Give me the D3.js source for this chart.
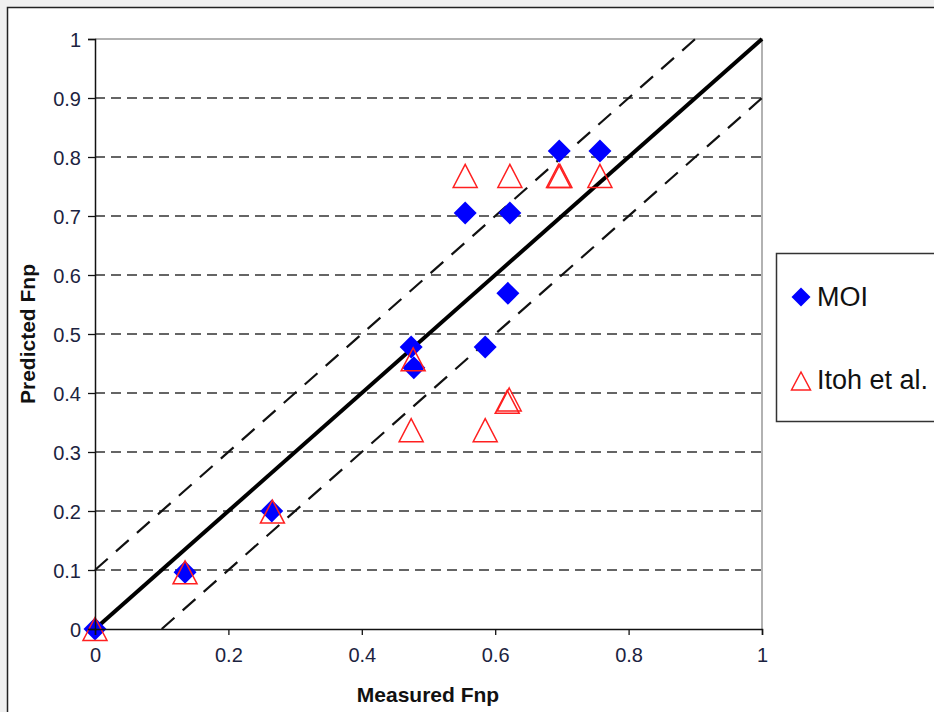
<!DOCTYPE html>
<html>
<head>
<meta charset="utf-8">
<script src="https://cdn.jsdelivr.net/npm/d3@7"></script>
<style>
	html, body { margin: 0; padding: 0; background: #f0f0f0; overflow: hidden; }
	svg { display: block; font-family: "Liberation Sans", Arial, sans-serif; }
</style>
</head>
<body>
<script>
var width = 934, height = 712;

// MOI predictions (blue diamonds)
var moiX = [0, 0.135, 0.265, 0.474, 0.478, 0.555, 0.585, 0.619, 0.622, 0.696, 0.757];
var moiY = [0, 0.096, 0.2, 0.478, 0.443, 0.705, 0.478, 0.569, 0.705, 0.81, 0.81];

// Itoh et al. predictions (red triangles)
var itohX = [0, 0.135, 0.266, 0.477, 0.474, 0.585, 0.618, 0.621, 0.555, 0.622, 0.695, 0.697, 0.757];
var itohY = [0, 0.096, 0.199, 0.457, 0.337, 0.337, 0.385, 0.389, 0.768, 0.768, 0.768, 0.768, 0.768];

var ticks = [0, 0.1, 0.2, 0.3, 0.4, 0.5, 0.6, 0.7, 0.8, 0.9, 1];
var xTicks = [0, 0.2, 0.4, 0.6, 0.8, 1];
var seriesNames = ["MOI", "Itoh et al."];

var svg = d3.select("body").append("svg").attr("width", width).attr("height", height);

// chart frame
svg.append("rect")
	.attr("x", 7.5).attr("y", 7.5)
	.attr("width", width + 20).attr("height", height + 20)
	.attr("fill", "#fff").attr("stroke", "#222").attr("stroke-width", 1.5);

var x = d3.scaleLinear().domain([0, 1]).range([95, 762]);
var y = d3.scaleLinear().domain([0, 1]).range([629, 39]);

var plot = svg.append("g");

// horizontal gridlines
plot.selectAll(".grid")
	.data(ticks.filter(function(d){ return d > 0 && d < 1; }))
	.enter().append("line")
	.attr("class", "grid")
	.attr("x1", x(0)).attr("x2", x(1))
	.attr("y1", function(d){ return y(d); })
	.attr("y2", function(d){ return y(d); })
	.attr("stroke", "#333").attr("stroke-width", 1.4)
	.attr("stroke-dasharray", "10,6");

// top and right border of plot area
plot.append("path")
	.attr("d", "M" + x(0) + "," + y(1) + "H" + x(1) + "V" + y(0))
	.attr("fill", "none").attr("stroke", "#999").attr("stroke-width", 1.5);

// axes
var fmt = function(d){ return d3.format("")(+d.toFixed(1)); };
var yAxis = d3.axisLeft(y).tickValues(ticks).tickSize(7).tickPadding(7).tickFormat(fmt);
var xAxis = d3.axisBottom(x).tickValues(xTicks).tickSize(6).tickPadding(13).tickFormat(fmt);

var gy = svg.append("g").attr("transform", "translate(" + x(0) + ",0)").call(yAxis);
var gx = svg.append("g").attr("transform", "translate(0," + y(0) + ")").call(xAxis);

[gx, gy].forEach(function(g) {
	g.select(".domain").attr("stroke", "#111").attr("stroke-width", 1.5);
	g.selectAll(".tick line").attr("stroke", "#111").attr("stroke-width", 1.3);
	g.selectAll(".tick text")
		.attr("font-size", 20)
		.attr("font-family", "Liberation Sans, Arial, sans-serif")
		.attr("fill", "#1c2340");
});
gy.selectAll(".tick text").attr("dy", "0.36em");

// reference lines: y = x and +/- 0.1
var refLine = d3.line().x(function(d){ return x(d[0]); }).y(function(d){ return y(d[1]); });

plot.append("path")
	.datum([[0, 0.1], [0.9, 1]])
	.attr("d", refLine)
	.attr("stroke", "#111").attr("stroke-width", 2.2)
	.attr("stroke-dasharray", "17,11").attr("fill", "none");

plot.append("path")
	.datum([[0.1, 0], [1, 0.9]])
	.attr("d", refLine)
	.attr("stroke", "#111").attr("stroke-width", 2.2)
	.attr("stroke-dasharray", "17,11").attr("fill", "none");

plot.append("path")
	.datum([[0, 0], [1, 1]])
	.attr("d", refLine)
	.attr("stroke", "#000").attr("stroke-width", 4).attr("fill", "none");

// markers
function diamond(cx, cy, r) {
	return "M" + cx + "," + (cy - r) + "L" + (cx + r) + "," + cy +
		"L" + cx + "," + (cy + r) + "L" + (cx - r) + "," + cy + "Z";
}
function triangle(cx, cy, w, h) {
	return "M" + cx + "," + (cy - h / 2) + "L" + (cx + w / 2) + "," + (cy + h / 2) +
		"L" + (cx - w / 2) + "," + (cy + h / 2) + "Z";
}

var moi = moiX.map(function(d, i){ return {x: d, y: moiY[i]}; });
var itoh = itohX.map(function(d, i){ return {x: d, y: itohY[i]}; });

plot.selectAll(".moi")
	.data(moi)
	.enter().append("path")
	.attr("class", "moi")
	.attr("d", function(d){ return diamond(x(d.x), y(d.y), 11.5); })
	.attr("fill", "#0000ff");

plot.selectAll(".itoh")
	.data(itoh)
	.enter().append("path")
	.attr("class", "itoh")
	.attr("d", function(d){ return triangle(x(d.x), y(d.y), 24, 23); })
	.attr("fill", "none").attr("stroke", "#ff2020").attr("stroke-width", 1.5);

// axis titles
svg.append("text")
	.attr("x", 428).attr("y", 702)
	.attr("text-anchor", "middle")
	.attr("font-size", 21).attr("font-weight", "bold")
	.attr("fill", "#111")
	.text("Measured Fnp");

svg.append("text")
	.attr("transform", "translate(35,334) rotate(-90)")
	.attr("text-anchor", "middle")
	.attr("font-size", 21).attr("font-weight", "bold")
	.attr("fill", "#111")
	.text("Predicted Fnp");

// legend
var legend = svg.append("g");
legend.append("rect")
	.attr("x", 776.5).attr("y", 253.5)
	.attr("width", 200).attr("height", 168)
	.attr("fill", "#fff").attr("stroke", "#333").attr("stroke-width", 1.5);

legend.append("path")
	.attr("d", diamond(801, 297, 9.5))
	.attr("fill", "#0000ff");
legend.append("path")
	.attr("d", triangle(801, 381, 19, 18))
	.attr("fill", "none").attr("stroke", "#ff2020").attr("stroke-width", 1.5);

legend.selectAll(".ltext")
	.data(seriesNames)
	.enter().append("text")
	.attr("class", "ltext")
	.attr("x", 817)
	.attr("y", function(d, i){ return i === 0 ? 306 : 389; })
	.attr("font-size", 27)
	.attr("fill", "#111")
	.text(function(d){ return d; });
</script>
</body>
</html>
